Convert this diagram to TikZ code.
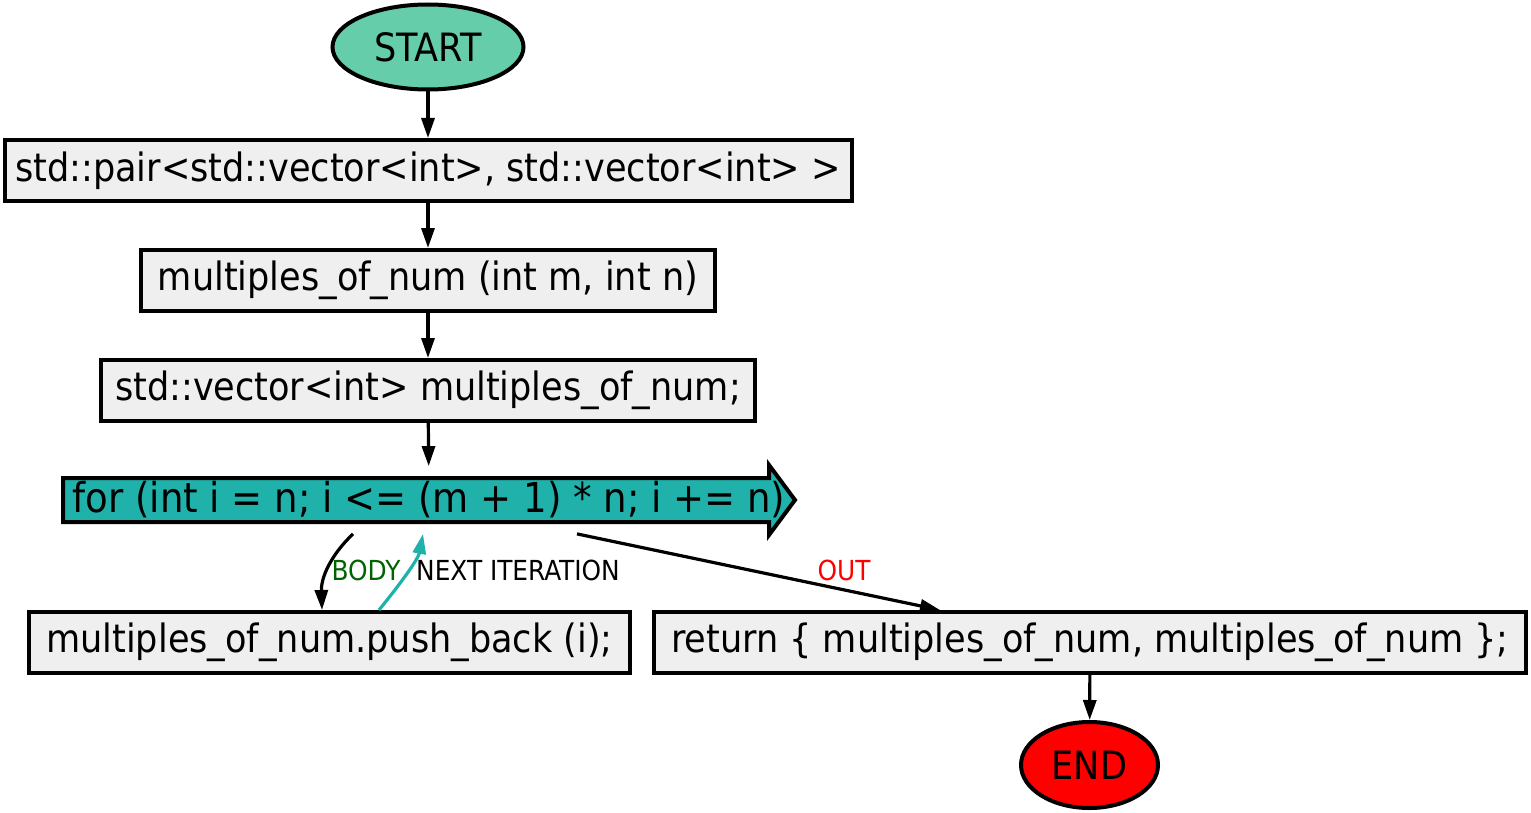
\documentclass[tikz,border=0pt]{standalone}
\usepackage{fontspec}
\setmainfont{DejaVu Sans Condensed}
\usetikzlibrary{shapes.geometric,arrows.meta}

\definecolor{startgreen}{HTML}{66CDAA}
\definecolor{loopteal}{HTML}{20B2AA}
\definecolor{boxgrey}{HTML}{EFEFEF}
\definecolor{bodygreen}{HTML}{006400}
\newcommand{\stmtfont}{\fontsize{19.5}{21}\selectfont}
\newcommand{\edgefont}{\fontsize{13.8}{15}\selectfont}

\tikzset{
  stmt/.style={draw, line width=2pt, fill=boxgrey, minimum height=30.5pt,
    inner sep=0pt, font=\stmtfont},
  term/.style={ellipse, draw, line width=2pt, inner sep=0pt, font=\stmtfont},
  flow/.style={line width=1.6pt, -{Triangle[length=10pt,width=6.5pt]}},
  lbl/.style={font=\edgefont, inner sep=1pt},
}

\begin{document}
\begin{tikzpicture}[x=0.5pt,y=-0.5pt]
    \useasboundingbox (0,0) rectangle (1531,813);

    \node[term, fill=startgreen, minimum width=95.5pt, minimum height=42.5pt] (start) at (428,47) {START};
    \node[stmt, minimum width=423.5pt] (pairtype) at (428,170.5) {std::pair<std::vector<int>, std::vector<int> >};
    \node[stmt, minimum width=287pt] (funcname) at (428,280.5) {multiples\_of\_num (int m, int n)};
    \node[stmt, minimum width=327pt] (vecdecl) at (428,390.5) {std::vector<int> multiples\_of\_num;};

    % loop arrow shape
    \filldraw[fill=loopteal, line width=2pt] (63,478) -- (769,478) -- (769,465) -- (795,500)
      -- (769,535) -- (769,522) -- (63,522) -- cycle;
    \node[font=\fontsize{20.6}{22}\selectfont, minimum width=366pt, minimum height=33.5pt, inner sep=0pt] (loop) at (429,500)
      {for (int i = n; i <= (m + 1) * n; i += n)};

    \node[stmt, minimum width=300.5pt] (push) at (329.5,642.5) {multiples\_of\_num.push\_back (i);};
    \node[stmt, minimum width=436pt] (ret) at (1090,642.5) {return \{ multiples\_of\_num, multiples\_of\_num \};};
    \node[term, fill=red, minimum width=68.5pt, minimum height=43pt] (finish) at (1089.5,765) {END};

    \draw[flow] (start) -- (pairtype);
    \draw[flow] (pairtype) -- (funcname);
    \draw[flow] (funcname) -- (vecdecl);
    \draw[flow] (vecdecl) -- (loop);
    \draw[flow] ([xshift=-38pt]loop.south) .. controls (330,556) and (321,578) .. ([xshift=-3.75pt]push.north);
    \draw[flow, loopteal] ([xshift=24.75pt]push.north) .. controls (397,588) and (418,560) .. ([xshift=-3pt]loop.south);
    \draw[flow] ([xshift=74pt]loop.south) -- ([xshift=-75pt]ret.north);
    \draw[flow] (ret) -- (finish);

    \node[lbl, text=bodygreen] (bodylbl) at (366,570) {BODY};
    \node[lbl] (nextlbl) at (518,570) {NEXT ITERATION};
    \node[lbl, text=red] (outlbl) at (844,570) {OUT};
\end{tikzpicture}
\end{document}
